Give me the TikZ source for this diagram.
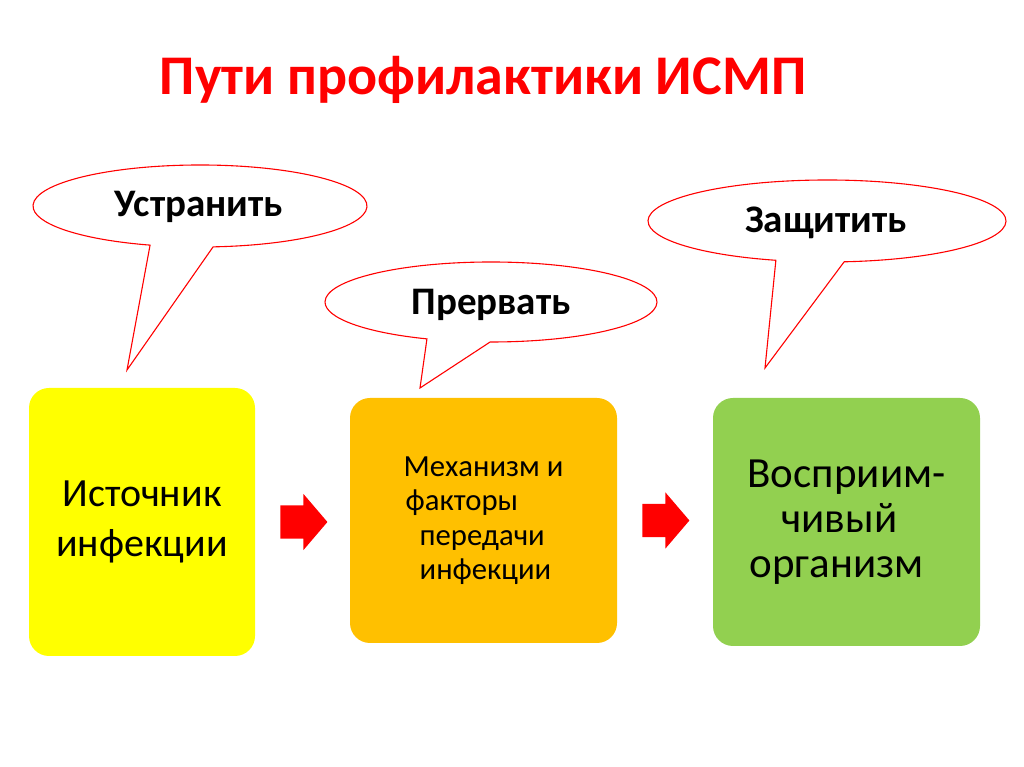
\documentclass[tikz,border=0pt]{standalone}
\usepackage{fontspec}
\setmainfont{Carlito}
\usetikzlibrary{shapes.arrows,calc}
\definecolor{tred}{HTML}{FF0000}
\definecolor{byellow}{HTML}{FFFF00}
\definecolor{borange}{HTML}{FFC000}
\definecolor{bgreen}{HTML}{92D050}
\AtBeginDocument{\global\lineskiplimit=-100pt\relax}
\begin{document}
\begin{tikzpicture}[x=1pt,y=1pt,
  box/.style={rounded corners=20pt, inner sep=0pt, text=black},
  callout/.style={draw=tred, line width=1.1pt, fill=white, line join=miter},
  calltext/.style={anchor=base, font=\bfseries\fontsize{39}{46}\selectfont, text=black, inner sep=0pt},
  blockarrow/.style={single arrow, fill=tred, draw=none, inner xsep=0pt, inner ysep=16.5pt,
    single arrow head extend=11.5pt, single arrow tip angle=99, minimum height=47pt,
    single arrow head indent=0pt, anchor=tail}]
\useasboundingbox (0,0) rectangle (1024,767);
\fill[white] (0,0) rectangle (1024,767);

% title
\node[anchor=base, inner sep=0pt, text=tred, font=\bfseries\fontsize{56}{66}\selectfont] (title) at (483,672) {Пути профилактики ИСМП};

% callouts
\coordinate (e1) at (200,561);
\coordinate (t1) at (127,397);
\draw[callout] (e1) ++(-85.5:167pt and 41pt) arc[start angle=-85.5, end angle=252.6, x radius=167pt, y radius=41pt] -- (t1) -- cycle;
\node[calltext] (c1) at (199,550) {Устранить};

\coordinate (e2) at (491,465);
\coordinate (t2) at (420,379);
\draw[callout] (e2) ++(-90.3:166pt and 40pt) arc[start angle=-90.3, end angle=247.3, x radius=166pt, y radius=40pt] -- (t2) -- cycle;
\node[calltext] (c2) at (491,452) {Прервать};

\coordinate (e3) at (827,546);
\coordinate (t3) at (765,399);
\draw[callout] (e3) ++(-84.5:179pt and 41pt) arc[start angle=-84.5, end angle=253.4, x radius=179pt, y radius=41pt] -- (t3) -- cycle;
\node[calltext] (c3) at (826,534) {Защитить};

% boxes
\node[box, fill=byellow, minimum width=226pt, minimum height=268pt, align=center,
  font=\fontsize{40}{50}\selectfont] (b1) at (142,245) {Источник\\инфекции};
\node[box, fill=borange, minimum width=267pt, minimum height=245pt, align=left,
  font=\fontsize{30.7}{34.5}\selectfont] (b2) at (483.5,246.5)
  {Механизм и\\\hspace*{2pt}факторы\\\hspace*{16pt}передачи\\\hspace*{16pt}инфекции};
\node[box, fill=bgreen, minimum width=267pt, minimum height=248pt, align=left,
  font=\fontsize{43}{45}\selectfont] (b3) at (846.5,245)
  {Восприим-\\\hspace*{34pt}чивый\\\hspace*{2pt}организм};

% arrows
\node[blockarrow] (a1) at ($(b1.east)+(25pt,0pt)$) {};
\node[blockarrow] (a2) at ($(b2.east)+(25pt,0pt)$) {};
\end{tikzpicture}
\end{document}
